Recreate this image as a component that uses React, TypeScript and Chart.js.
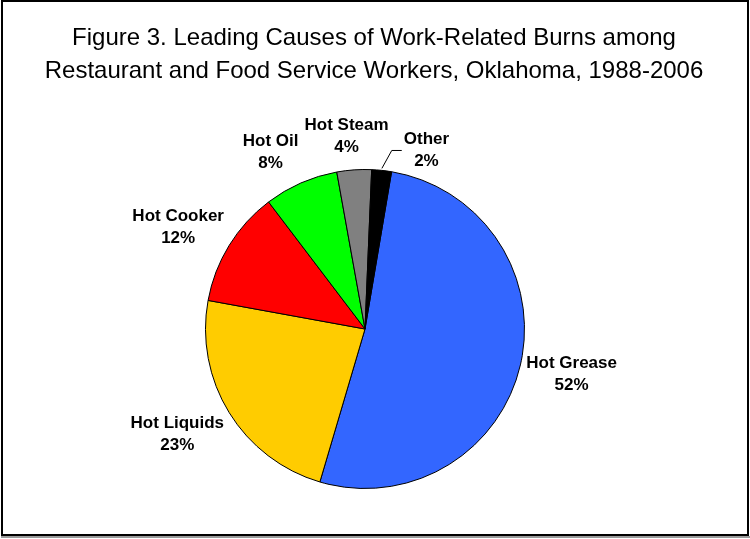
import React, { useEffect, useRef } from "react";
import { Chart, registerables } from "chart.js";

Chart.register(...registerables);

const categories = ["Hot Grease", "Hot Liquids", "Hot Cooker", "Hot Oil", "Hot Steam", "Other"];
const shares = [51.9, 23.3, 11.8, 7.5, 3.5, 2.0];
const percentLabels = ["52%", "23%", "12%", "8%", "4%", "2%"];
const sliceColors = ["#3366FF", "#FFCC00", "#FF0000", "#00FF00", "#808080", "#000000"];
const titleLines = [
  "Figure 3. Leading Causes of Work-Related Burns among",
  "Restaurant and Food Service Workers, Oklahoma, 1988-2006",
];
const leaderCategories = ["Other"];

const FONT = '"Liberation Sans", Arial, sans-serif';

const decorPlugin = {
  id: "decor",
  beforeDraw(chart: any) {
    const { ctx, width, height } = chart;
    ctx.save();
    ctx.fillStyle = "#ffffff";
    ctx.fillRect(0, 0, width, height);
    ctx.restore();
  },
  afterDraw(chart: any) {
    const ctx = chart.ctx;
    ctx.save();
    // frame
    ctx.fillStyle = "#000";
    ctx.fillRect(1, 0, 2, 536);
    ctx.fillRect(747, 0, 2, 536);
    ctx.fillRect(1, 0, 748, 2);
    ctx.fillRect(1, 534, 748, 2);
    ctx.fillStyle = "#9a9a9a";
    ctx.fillRect(1, 536, 749, 2);
    // title
    ctx.fillStyle = "#000";
    ctx.font = `24px ${FONT}`;
    ctx.textAlign = "center";
    ctx.textBaseline = "middle";
    titleLines.forEach((t, i) => ctx.fillText(t, 374, 38 + i * 33));
    // labels
    const meta = chart.getDatasetMeta(0);
    ctx.font = `bold 17px ${FONT}`;
    meta.data.forEach((arc: any, i: number) => {
      const { x, y, startAngle, endAngle, outerRadius } = arc.getProps(
        ["x", "y", "startAngle", "endAngle", "outerRadius"],
        true
      );
      const mid = (startAngle + endAngle) / 2;
      const dx = Math.cos(mid);
      const dy = Math.sin(mid);
      const lines = [categories[i], percentLabels[i]];
      const w = Math.max(...lines.map((l) => ctx.measureText(l).width));
      const lh = 22;
      const halfW = w / 2;
      const halfH = dy > 0 ? 35 : 28;
      let cx: number;
      let cy: number;
      if (leaderCategories.includes(categories[i])) {
        const sx = x + dx * (outerRadius + 2);
        const sy = y + dy * (outerRadius + 2);
        const ex = x + dx * (outerRadius + 20) + 8;
        const ey = y + dy * (outerRadius + 20);
        ctx.strokeStyle = "#000";
        ctx.lineWidth = 1;
        ctx.beginPath();
        ctx.moveTo(sx, sy);
        ctx.lineTo(ex, ey);
        ctx.lineTo(ex + 10, ey);
        ctx.stroke();
        cx = ex + 12 + halfW;
        cy = ey;
      } else {
        const ax = x + dx * (outerRadius + 6);
        const ay = y + dy * (outerRadius + 6);
        cx = ax + Math.sign(dx) * halfW * Math.min(1, Math.abs(dx) * 2.5);
        cy = ay + dy * halfH;
      }
      ctx.fillText(lines[0], cx, cy - lh / 2);
      ctx.fillText(lines[1], cx, cy + lh / 2);
    });
    ctx.restore();
  },
};

export default function App() {
  const ref = useRef<HTMLCanvasElement | null>(null);
  useEffect(() => {
    if (!ref.current) return;
    const chart = new Chart(ref.current, {
      type: "pie",
      data: {
        labels: categories,
        datasets: [
          {
            data: shares,
            backgroundColor: sliceColors,
            borderColor: "#000000",
            borderWidth: 1,
          },
        ],
      },
      options: {
        responsive: false,
        animation: false,
        devicePixelRatio: 1,
        rotation: 9.6,
        layout: { padding: { top: 169, left: 205, right: 225, bottom: 50 } },
        plugins: {
          legend: { display: false },
          tooltip: { enabled: false },
          title: { display: false },
        },
      },
      plugins: [decorPlugin],
    });
    return () => chart.destroy();
  }, []);
  return (
    <div style={{ position: "absolute", left: 0, top: 0, width: 750, height: 539 }}>
      <canvas ref={ref} width={750} height={539} />
    </div>
  );
}
